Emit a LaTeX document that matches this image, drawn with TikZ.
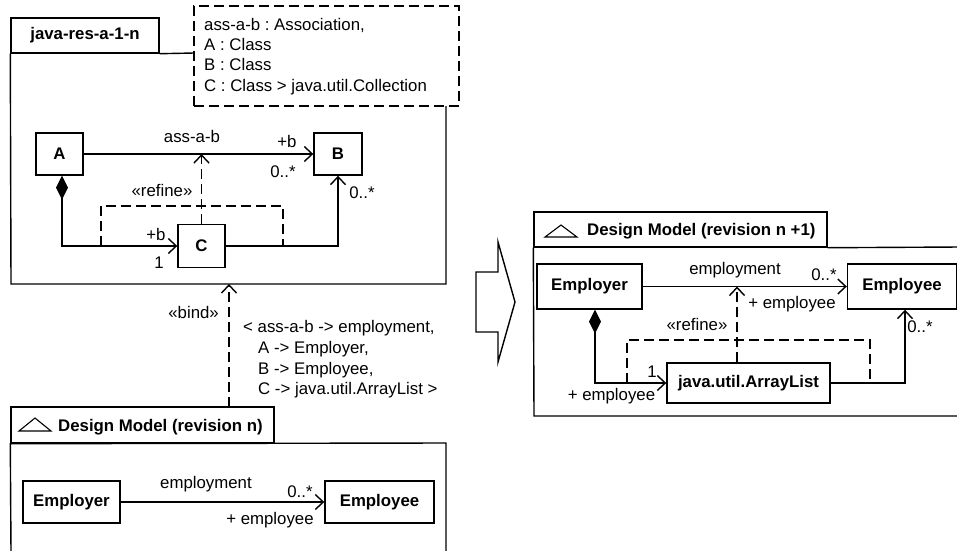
\documentclass[tikz,border=0pt]{standalone}
\usepackage{fontspec}
\setmainfont{Liberation Sans}
\usetikzlibrary{arrows.meta}
\frenchspacing
\begin{document}
\begin{tikzpicture}[x=1pt,y=-1pt,
  every node/.style={font=\fontsize{16.8}{20}\selectfont},
  lw/.style={line width=1.4pt},
  cls/.style={draw, line width=1.4pt, inner sep=0pt, font=\fontsize{16.8}{20}\selectfont\bfseries},
  tabbox/.style={draw, line width=1.4pt, inner sep=0pt, font=\fontsize{16.8}{20}\selectfont\bfseries},
  lbl/.style={inner sep=0pt, text height=11.8pt, text depth=0pt},
  bl/.style={lbl, font=\fontsize{16.8}{20}\selectfont\bfseries},
  dsh/.style={lw, dash pattern=on 10pt off 5pt},
  assoc/.style={lw, -{Straight Barb[length=8pt,width=15pt]}},
  dep/.style={assoc, dash pattern=on 10pt off 5pt},
  comp/.style={lw, {Diamond[length=24pt,width=12pt]}-{Straight Barb[length=8pt,width=15pt]}},
  pkgicon/.style={line width=1.1pt}
]
\useasboundingbox (0,0) rectangle (957,550);

% ---------- template package ----------
\node[tabbox, minimum width=148, minimum height=35] (tab1) at (85,35.5) {java-res-a-1-n};
\node[draw, dsh, minimum width=265, minimum height=100, inner sep=0pt] (tmpl) at (326.5,56) {};
\draw[lw] (tab1.south west) -- (11,284) -- (446,284) -- (446,106);
\draw[lw] (tab1.south east) -- (194,53);
\node[lbl, anchor=west] (t1) at (204,25) {ass-a-b : Association,};
\node[lbl, anchor=west] (t2) at (204,45) {A : Class};
\node[lbl, anchor=west] (t3) at (204,65) {B : Class};
\node[lbl, anchor=west] (t4) at (204,86) {C : Class > java.util.Collection};

\node[cls, minimum width=47, minimum height=42] (A) at (59.5,154) {A};
\node[cls, minimum width=48, minimum height=42] (B) at (338,154) {B};
\node[cls, minimum width=47, minimum height=43] (C) at (201.5,246) {C};
\coordinate (r1) at (201.5,154);

\draw[assoc] (A) -- (B);
\draw[comp] ([xshift=2.5pt]A.south) |- (C);
\draw[assoc] (C) -| (B);
\draw[dsh] (101,246) |- (283,206) -- (283,246);
\draw[dep] (C.north) -- (r1);

\node[lbl] (l1) at (192,137) {ass-a-b};
\node[lbl] (l2) at (287,142) {+b};
\node[lbl] (l3) at (283,172) {0..*};
\node[lbl] (l4) at (156,235) {+b};
\node[lbl] (l5) at (159,263) {1};
\node[lbl] (l6) at (362,193) {0..*};
\node[lbl] (l7) at (162,191) {«refine»};

% ---------- bind ----------
\coordinate (bindtop) at (229,284);
\coordinate (bindbot) at (229,407);
\draw[dep] (bindbot) -- (bindtop);
\node[lbl, anchor=east] (bind) at (219,313) {«bind»};
\node[lbl, anchor=west] (b1) at (243,327) {< ass-a-b -> employment,};
\node[lbl, anchor=west] (b2) at (258,348) {A -> Employer,};
\node[lbl, anchor=west] (b3) at (258,369) {B -> Employee,};
\node[lbl, anchor=west] (b4) at (258,389) {C -> java.util.ArrayList >};

% ---------- design model n ----------
\node[draw, lw, minimum width=263, minimum height=36, inner sep=0pt] (tab2) at (142.5,425) {};
\draw[pkgicon] (19,431) -- (35,418) -- (51,431) -- cycle;
\node[bl, anchor=west] (title2) at (58,426) {Design Model (revision n)};
\draw[lw] (11,552) -- (tab2.south west) -- (446,443) -- (446,552);

\node[cls, minimum width=97, minimum height=42] (Er2) at (71.5,502) {Employer};
\node[cls, minimum width=109, minimum height=42] (Ee2) at (379.5,502) {Employee};
\draw[assoc] (Er2) -- (Ee2);
\node[lbl] (m1) at (206,483) {employment};
\node[lbl] (m2) at (300,492) {0..*};
\node[lbl] (m3) at (270,519) {+ employee};

% ---------- refinement arrow ----------
\draw[lw] (476,272) -- (498,272) -- (498,242) -- (515,302) -- (498,362) -- (498,332) -- (476,332) -- cycle;

% ---------- design model n+1 ----------
\node[draw, lw, minimum width=293, minimum height=35, inner sep=0pt] (tab3) at (680.5,229.5) {};
\draw[pkgicon] (545,237) -- (561,225) -- (577,237) -- cycle;
\node[bl, anchor=west] (title3) at (587,230) {Design Model (revision n +1)};
\draw[lw] (tab3.south east) -- (960,247);
\draw[lw] (tab3.south west) -- (534,416) -- (960,416);

\node[cls, minimum width=105, minimum height=45] (Er3) at (589.5,286.5) {Employer};
\node[cls, minimum width=109, minimum height=45] (Ee3) at (902,286.5) {Employee};
\node[cls, minimum width=163, minimum height=40] (AL) at (748.5,383) {java.util.ArrayList};
\coordinate (r3) at (737,286.5);

\draw[assoc] (Er3) -- (Ee3);
\draw[comp] ([xshift=5.5pt]Er3.south) |- (AL);
\draw[assoc] (AL) -| ([xshift=3pt]Ee3.south);
\draw[dsh] (627,383) |- (870,340) -- (870,383);
\draw[dep] (AL.north -| r3) -- (r3);

\node[lbl] (n1) at (735,269) {employment};
\node[lbl] (n2) at (824,275) {0..*};
\node[lbl] (n3) at (792,303) {+ employee};
\node[lbl] (n4) at (697,325) {«refine»};
\node[lbl] (n5) at (652,372) {1};
\node[lbl] (n6) at (611.5,395) {+ employee};
\node[lbl] (n7) at (920,327) {0..*};
\end{tikzpicture}
\end{document}
